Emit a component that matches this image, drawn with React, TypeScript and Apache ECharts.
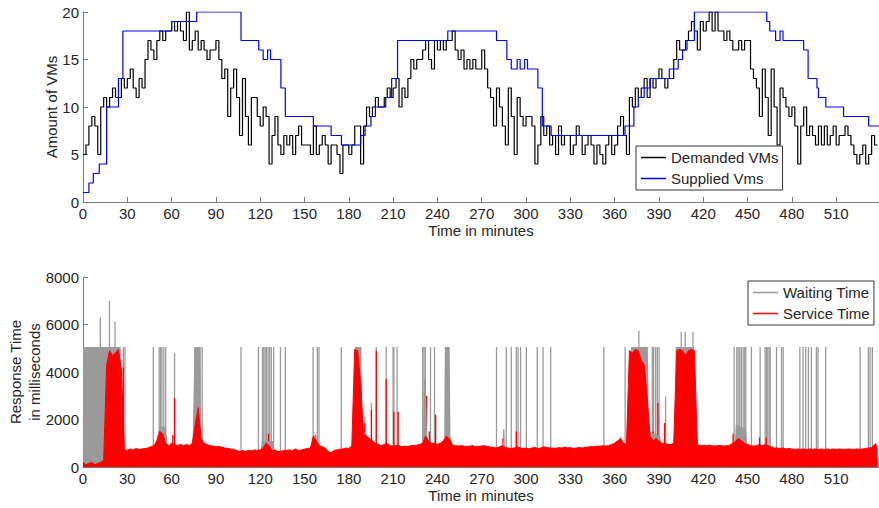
import React, { useEffect, useRef } from 'react';
import * as echarts from 'echarts';

// ---------- Top panel: VMs (minutes, sampled every 2 minutes) ----------
const demandedSampleMinutes = 2;
const demandedVMs = [
  5, 6, 8, 9, 8, 5, 10, 11, 10, 11, 12, 11, 11, 13, 12,
  13, 14, 12, 11, 13, 12, 15, 17, 16, 15, 17, 18, 17, 18, 18,
  19, 18, 19, 18, 17, 20, 16, 17, 18, 16, 17, 16, 15, 16, 16,
  17, 15, 13, 14, 9, 12, 14, 11, 7, 13, 9, 6, 11, 11, 9,
  8, 10, 9, 4, 7, 9, 6, 5, 7, 6, 7, 5, 7, 8, 6,
  6, 6, 5, 8, 5, 6, 7, 6, 4, 6, 6, 5, 3, 6, 6,
  5, 6, 8, 8, 4, 8, 10, 9, 10, 11, 10, 10, 11, 12, 11,
  12, 13, 10, 12, 11, 13, 15, 14, 15, 15, 16, 17, 15, 14, 17,
  16, 17, 16, 17, 17, 18, 16, 15, 16, 14, 15, 14, 15, 14, 14,
  16, 14, 12, 11, 8, 12, 10, 8, 6, 12, 9, 5, 11, 9, 8,
  9, 9, 8, 4, 6, 9, 7, 8, 6, 7, 5, 8, 6, 7, 7,
  5, 6, 8, 7, 5, 6, 7, 6, 4, 6, 5, 4, 6, 7, 5,
  6, 8, 9, 7, 5, 11, 10, 12, 11, 12, 13, 11, 13, 12, 13,
  14, 13, 12, 13, 13, 15, 17, 16, 16, 17, 18, 19, 18, 16, 19,
  18, 19, 20, 18, 20, 18, 18, 17, 18, 17, 16, 16, 17, 16, 17,
  17, 14, 13, 12, 9, 14, 11, 7, 14, 10, 6, 12, 11, 10, 9,
  10, 8, 4, 8, 10, 7, 8, 7, 6, 8, 6, 8, 6, 7, 8,
  6, 7, 7, 8, 7, 6, 5, 4, 5, 6, 4, 5, 7, 6, 6,
];

// [minute, VMs] change points
const suppliedVMs: [number, number][] = [
  [0, 1], [4, 2], [7, 3], [11, 4], [16, 10], [24, 13], [27, 18], [60, 19], [77, 20],
  [107, 17], [119, 16], [122, 15], [125, 16], [127, 15], [134, 12], [137, 9], [156, 8],
  [168, 7], [175, 6], [188, 7], [191, 8], [195, 9], [198, 10], [205, 11], [209, 13],
  [213, 17], [247, 18], [280, 17], [287, 15], [290, 14], [294, 15], [296, 14], [299, 15],
  [301, 14], [308, 12], [311, 8], [317, 7], [367, 8], [373, 10], [376, 11], [380, 12],
  [384, 13], [397, 14], [403, 15], [406, 16], [409, 17], [414, 20], [463, 19], [465, 18],
  [469, 17], [472, 18], [474, 17], [488, 16], [491, 13], [497, 12], [498, 11], [503, 10],
  [515, 9], [532, 8], [539, 8],
];

// ---------- Bottom panel: response time (ms) ----------
const serviceSampleMinutes = 2;
const serviceTime = [
  200, 100, 150, 200, 100, 150, 200, 300, 4300, 4900, 4700, 4800, 4950, 4100, 750,
  700, 760, 720, 780, 740, 760, 780, 800, 850, 900, 1100, 1500, 1400, 1000, 900,
  1000, 950, 900, 950, 900, 950, 900, 1000, 1800, 2500, 1200, 1000, 950, 900, 880,
  850, 860, 840, 800, 780, 760, 740, 700, 650, 700, 650, 700, 680, 720, 700,
  720, 800, 1000, 900, 700, 720, 650, 660, 700, 700, 720, 700, 760, 700, 720,
  750, 780, 800, 1300, 1100, 900, 850, 800, 650, 600, 700, 720, 750, 760, 800,
  780, 900, 4950, 4900, 3500, 1400, 1300, 1200, 1100, 1000, 950, 900, 950, 1000, 900,
  880, 900, 900, 850, 880, 850, 900, 900, 920, 950, 1000, 1300, 1100, 1000, 1000,
  950, 1000, 1100, 1300, 1200, 950, 900, 880, 900, 880, 860, 880, 900, 850, 870,
  880, 900, 860, 840, 820, 800, 850, 900, 820, 800, 780, 800, 850, 800, 780,
  800, 760, 800, 820, 780, 800, 850, 820, 800, 800, 780, 820, 800, 840, 800,
  820, 780, 800, 820, 800, 820, 840, 860, 850, 880, 870, 900, 880, 900, 950,
  1000, 1100, 1200, 1000, 950, 4900, 4800, 4950, 4900, 4500, 4300, 3000, 1300, 1100, 1200,
  1100, 1000, 1000, 950, 950, 1000, 4900, 4950, 4900, 4700, 4900, 4950, 4900, 950, 900,
  920, 900, 920, 900, 880, 900, 900, 880, 900, 920, 1000, 1100, 1200, 1100, 1000,
  950, 900, 880, 900, 950, 900, 950, 900, 850, 800, 800, 780, 800, 760, 780,
  760, 740, 760, 750, 760, 740, 760, 740, 760, 740, 760, 740, 760, 740, 760,
  740, 760, 750, 740, 760, 750, 740, 760, 750, 760, 780, 800, 820, 950, 850,
];

// [minute, ms] isolated service-time peaks
const serviceSpikes: [number, number][] = [
  [0.4, 2250], [1.8, 900], [2.7, 700], [4.5, 3300], [7.4, 4280], [8.5, 4300], [10.2, 4450],
  [12, 4400], [14.4, 4500], [27.3, 4200], [53, 1500], [60.8, 1350], [62, 2900], [75.8, 2900],
  [78, 4150], [79.5, 2500], [125.6, 1400], [157.5, 1330], [190.8, 1850], [195.3, 2400],
  [198.6, 4900], [205.3, 3700], [210.5, 2330], [213.4, 2330], [232.6, 3000], [234.5, 1500],
  [238.8, 2200], [248, 3300], [284.4, 1200], [293.4, 1500], [364, 1230], [386, 1500],
  [389.3, 2700], [393.8, 1850], [440.2, 1400], [445.4, 1550], [458.1, 1240], [462.6, 1240],
  [536.8, 1000],
];

// [minute, ms] waiting-time envelope
const waitingTime: [number, number][] = [
  [0, 5050], [25.5, 5050], [26, 400], [48, 400], [50, 1200], [52, 1700], [56, 1700], [58, 400],
  [74, 400], [75.5, 5050], [79.5, 5050], [80, 1300], [84, 400], [120, 400], [121, 1100],
  [129, 1100], [130, 400], [155, 400], [157, 1500], [160, 400], [183.5, 400], [184, 5050],
  [188.5, 5050], [189, 1500], [192, 1400], [196, 400], [230, 400], [231, 3700], [232, 3700],
  [233, 1300], [236, 400], [244.5, 400], [245, 5050], [248.3, 5050], [248.8, 1300], [252, 400],
  [284, 400], [285, 1600], [286, 400], [370, 400], [371, 5050], [382.5, 5050], [383, 1500],
  [391, 1300], [392, 400], [401, 400], [401.3, 5050], [413.8, 5050], [414.3, 400], [441, 400],
  [442, 1800], [449, 1600], [450, 400], [539, 400],
];

// [minute, ms] isolated waiting-time peaks
const waitingSpikes: [number, number][] = [
  [11.7, 6300], [17.9, 7000], [21.7, 6130], [27.3, 5050], [28.4, 5050], [47.6, 5050],
  [51.6, 5050], [52.5, 5050], [53.4, 5050], [54.7, 5050], [56, 5050], [62, 4800],
  [75.8, 5050], [76.6, 5050], [77.5, 5050], [78.4, 5050], [79.2, 5050], [80.7, 5050],
  [107, 5050], [118.8, 5050], [121.5, 5050], [122.4, 5050], [123.3, 5050], [124.2, 5050],
  [125.3, 5050], [126.4, 5050], [127.5, 5050], [129.1, 5050], [133.7, 5050], [137, 5050],
  [155.8, 5050], [158.7, 5050], [159.8, 5050], [174.9, 5050], [190.8, 2100], [195.3, 2700],
  [198.6, 5050], [205.3, 5050], [210, 5050], [210.5, 5050], [212.7, 5050], [230, 5050],
  [230.9, 5050], [231.8, 5050], [235.3, 5050], [238, 5050], [280, 5050], [284.9, 1600],
  [286.6, 5050], [290, 5050], [293.4, 5050], [294.6, 5050], [296.3, 5050], [300.2, 5050],
  [307.6, 5050], [311.5, 5050], [316.7, 5050], [352.7, 5050], [367.1, 5050], [376.4, 5750],
  [385.5, 5050], [386.4, 5050], [387.8, 5050], [388.9, 5050], [390.1, 5050], [394.5, 2960],
  [405.1, 5700], [407.8, 5700], [413, 5700], [440.9, 5050], [442.7, 5050], [443.6, 5050],
  [444.7, 5050], [445.8, 5050], [447, 5050], [448.1, 5050], [448.8, 5050], [452.6, 5050],
  [458.5, 5050], [461.9, 5050], [462.8, 5050], [463.7, 5050], [464.6, 5050], [465.3, 5050],
  [469.6, 5050], [473, 5050], [474.1, 5050], [485.4, 5050], [487.6, 5050], [489.4, 5050],
  [491.2, 5050], [493.2, 5050], [496.6, 5050], [497.7, 5050], [502.9, 5050], [526.2, 5050],
  [531.8, 5050], [533, 5050], [534.5, 5050],
];

const FONT = '"Liberation Sans", Arial, Helvetica, sans-serif';
const AXIS_GRAY = '#7a7a7a';
const TEXT = '#262626';
const WAIT_GRAY = '#9a9a9a';
const RED = '#ff0000';

const plainNumber = (v: number) => String(v);

function xAxisFor(gridIndex: number) {
  return {
    type: 'value',
    gridIndex,
    min: 0,
    max: 539,
    interval: 30,
    name: 'Time in minutes',
    nameLocation: 'middle',
    nameGap: 21,
    nameMoveOverlap: false,
    nameTextStyle: { fontSize: 15, color: TEXT, fontFamily: FONT },
    axisLine: { show: true, onZero: false, lineStyle: { color: AXIS_GRAY, width: 1 } },
    axisTick: { show: true, inside: true, length: 5, lineStyle: { color: AXIS_GRAY } },
    axisLabel: { fontSize: 15, color: TEXT, fontFamily: FONT, margin: 4, showMaxLabel: false, formatter: plainNumber },
    splitLine: { show: false },
  };
}

function yAxisFor(gridIndex: number, max: number, interval: number, name: string, nameGap: number) {
  return {
    type: 'value',
    gridIndex,
    min: 0,
    max,
    interval,
    name,
    nameLocation: 'middle',
    nameGap,
    nameMoveOverlap: false,
    nameTextStyle: { fontSize: 15, color: TEXT, fontFamily: FONT, lineHeight: 19 },
    axisLine: { show: true, onZero: false, lineStyle: { color: AXIS_GRAY, width: 1 } },
    axisTick: { show: true, inside: true, length: 5, lineStyle: { color: AXIS_GRAY } },
    axisLabel: { fontSize: 15, color: TEXT, fontFamily: FONT, margin: 4, formatter: plainNumber },
    splitLine: { show: false },
  };
}

function legendAt(names: string[], left: number, top: number) {
  return {
    data: names,
    orient: 'vertical',
    left,
    top,
    icon: 'rect',
    itemWidth: 25,
    itemHeight: 1.5,
    itemGap: 6,
    padding: [4, 4, 4, 5],
    borderColor: '#333',
    borderWidth: 1,
    backgroundColor: '#fff',
    textStyle: { fontSize: 15, color: TEXT, fontFamily: FONT },
  };
}

export default function App() {
  const ref = useRef<HTMLDivElement>(null);

  useEffect(() => {
    if (!ref.current) return;
    const chart = echarts.init(ref.current, undefined, { renderer: 'svg' });

    const option = {
      animation: false,
      backgroundColor: '#ffffff',
      grid: [
        { left: 83, right: 0, top: 12, height: 190, containLabel: false, outerBoundsMode: 'none' },
        { left: 83, right: 0, top: 277, height: 190, containLabel: false, outerBoundsMode: 'none' },
      ],
      xAxis: [xAxisFor(0), xAxisFor(1)],
      yAxis: [
        yAxisFor(0, 20, 5, 'Amount of VMs', 22),
        yAxisFor(1, 8000, 2000, 'Response Time\nin milliseconds', 39),
      ],
      legend: [
        legendAt(['Demanded VMs', 'Supplied Vms'], 636, 146),
        legendAt(['Waiting Time', 'Service Time'], 748, 281),
      ],
      series: [
        {
          name: 'Demanded VMs',
          type: 'line',
          xAxisIndex: 0,
          yAxisIndex: 0,
          step: 'end',
          symbol: 'none',
          data: demandedVMs.map((v, i) => [i * demandedSampleMinutes, v]),
          lineStyle: { color: '#000000', width: 1.2 },
          itemStyle: { color: '#000000' },
        },
        {
          name: 'Supplied Vms',
          type: 'line',
          xAxisIndex: 0,
          yAxisIndex: 0,
          step: 'end',
          symbol: 'none',
          data: suppliedVMs,
          lineStyle: { color: '#0000ff', width: 1.2 },
          itemStyle: { color: '#0000ff' },
        },
        {
          name: 'Waiting Time',
          type: 'line',
          xAxisIndex: 1,
          yAxisIndex: 1,
          symbol: 'none',
          data: waitingTime,
          lineStyle: { color: WAIT_GRAY, width: 0 },
          itemStyle: { color: WAIT_GRAY },
          areaStyle: { color: WAIT_GRAY, opacity: 1 },
        },
        {
          name: 'Waiting peaks',
          type: 'bar',
          xAxisIndex: 1,
          yAxisIndex: 1,
          barWidth: 1.3,
          barGap: '-100%',
          data: waitingSpikes,
          itemStyle: { color: WAIT_GRAY },
        },
        {
          name: 'Service Time',
          type: 'line',
          xAxisIndex: 1,
          yAxisIndex: 1,
          symbol: 'none',
          data: serviceTime.map((v, i) => [i * serviceSampleMinutes, v]),
          lineStyle: { color: RED, width: 1 },
          itemStyle: { color: RED },
          areaStyle: { color: RED, opacity: 1 },
        },
        {
          name: 'Service peaks',
          type: 'bar',
          xAxisIndex: 1,
          yAxisIndex: 1,
          barWidth: 1.3,
          barGap: '-100%',
          data: serviceSpikes,
          itemStyle: { color: RED },
        },
      ],
    };

    chart.setOption(option as any);
    return () => chart.dispose();
  }, []);

  return (
    <div
      ref={ref}
      style={{ position: 'fixed', left: 0, top: 0, width: 879, height: 508, background: '#fff' }}
    />
  );
}
